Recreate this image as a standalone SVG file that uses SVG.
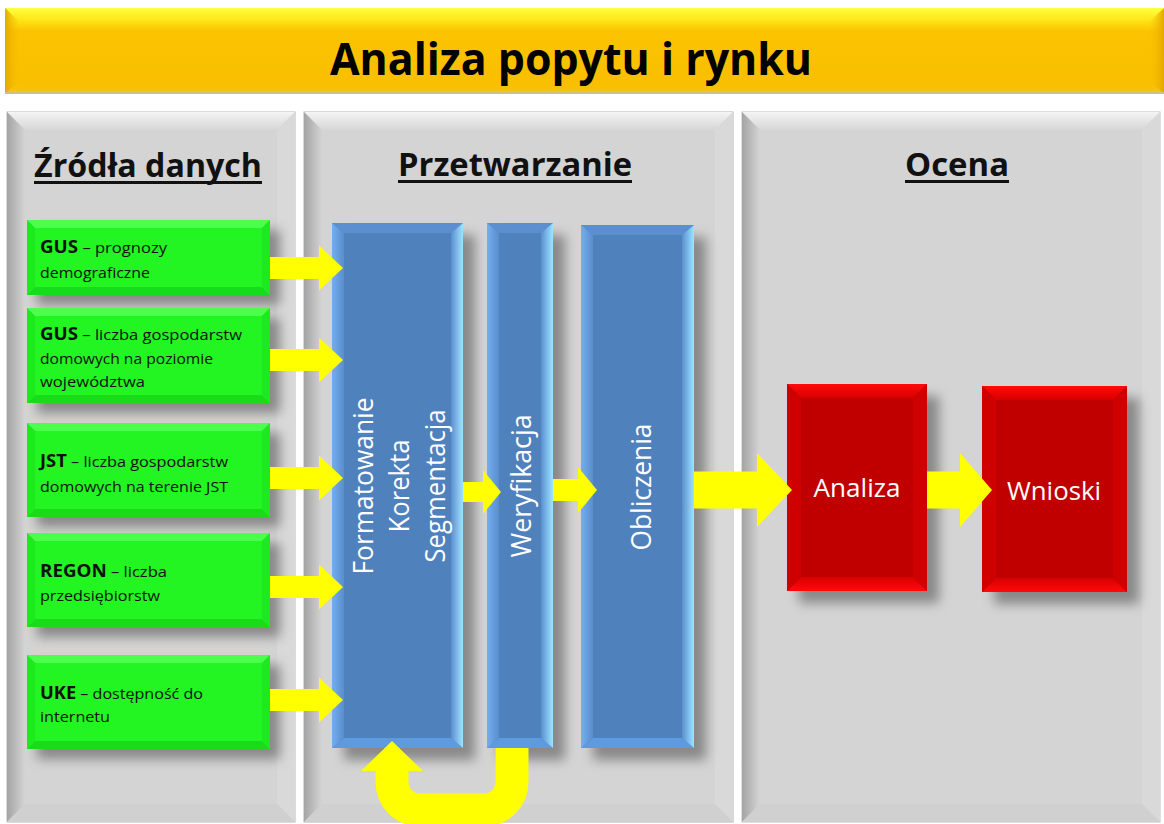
<svg xmlns="http://www.w3.org/2000/svg" width="1164" height="824" viewBox="0 0 1164 824">
<defs>
  <linearGradient id="gTitle" x1="0" y1="0" x2="0" y2="1">
    <stop offset="0" stop-color="#ffff40"/>
    <stop offset="0.13" stop-color="#ffe81a"/>
    <stop offset="0.27" stop-color="#fbc300"/>
    <stop offset="0.9" stop-color="#f9bf00"/>
    <stop offset="1" stop-color="#f6c520"/>
  </linearGradient>
  <linearGradient id="gTitleL" x1="0" y1="0" x2="1" y2="0">
    <stop offset="0" stop-color="#e3a800"/><stop offset="1" stop-color="#f9bf00" stop-opacity="0"/>
  </linearGradient>
  <linearGradient id="gTitleR" x1="1" y1="0" x2="0" y2="0">
    <stop offset="0" stop-color="#e3a800"/><stop offset="1" stop-color="#f9bf00" stop-opacity="0"/>
  </linearGradient>
  <linearGradient id="gPanL" x1="0" y1="0" x2="1" y2="0">
    <stop offset="0" stop-color="#a4a4a4"/><stop offset="1" stop-color="#d4d4d4"/>
  </linearGradient>
  <linearGradient id="gPanT" x1="0" y1="0" x2="0" y2="1">
    <stop offset="0" stop-color="#f4f4f4"/><stop offset="1" stop-color="#d6d6d6"/>
  </linearGradient>
  <linearGradient id="gBlueR" x1="0" y1="0" x2="1" y2="0">
    <stop offset="0" stop-color="#5a8fd0"/><stop offset="1" stop-color="#9ee4ff"/>
  </linearGradient>
  <linearGradient id="gBlueL" x1="1" y1="0" x2="0" y2="0">
    <stop offset="0" stop-color="#5a8dcc"/><stop offset="1" stop-color="#74aef0"/>
  </linearGradient>
  <linearGradient id="gRedT" x1="0" y1="0" x2="0" y2="1">
    <stop offset="0" stop-color="#ff0a0a"/><stop offset="1" stop-color="#d80000"/>
  </linearGradient>
  <linearGradient id="gRedB" x1="0" y1="1" x2="0" y2="0">
    <stop offset="0" stop-color="#ff0a0a"/><stop offset="1" stop-color="#d80000"/>
  </linearGradient>
  <filter id="blur" x="-30%" y="-30%" width="160%" height="160%">
    <feGaussianBlur stdDeviation="6"/>
  </filter>
</defs>
<style>
  .pMain{fill:#d4d4d4;}
  .pRight{fill:#d9d9d9;}
  .pBot{fill:#d0d0d0;}
  .shadow{fill:#6e6e6e;opacity:0.75;filter:url(#blur);}
  .gMain{fill:#22f522;}
  .gTop{fill:#4dff4d;}
  .gBot{fill:#18dc18;}
  .gSide{fill:#1ee91e;}
  .bMain{fill:#4f81bd;}
  .bTop{fill:#5b8fcf;}
  .bBot{fill:#5e9ade;}
  .rMain{fill:#c00000;}
  .rSide{fill:#cf0000;}
  .arrow{fill:#ffff00;}
  .hdr{font-family:"Open Sans","Liberation Sans",sans-serif;font-weight:bold;font-size:32px;fill:#111;}
  .ul{stroke:#111;stroke-width:3;}
  .src{font-family:"Open Sans","Liberation Sans",sans-serif;font-size:15px;fill:#111;}
  .src .b{font-weight:bold;font-size:17px;}
  .wt{font-family:"Open Sans","Liberation Sans",sans-serif;font-size:27px;fill:#ffffff;text-anchor:middle;}
</style>

<!-- Title bar -->
<g id="title">
  <rect x="5" y="8" width="1159" height="86" fill="url(#gTitle)"/>
  <polygon points="5,8 20,22 20,80 5,94" fill="url(#gTitleL)"/>
  <polygon points="1164,8 1149,22 1149,80 1164,94" fill="url(#gTitleR)"/>
  <rect x="5" y="92" width="1159" height="2" fill="#cfc27a"/>
  <text x="571" y="75" text-anchor="middle" textLength="482" lengthAdjust="spacingAndGlyphs" style="font-family:'Open Sans','Liberation Sans',sans-serif;font-weight:bold;font-size:44px;fill:#000;">Analiza popytu i rynku</text>
</g>

<!-- Panels -->
<g id="panel-zrodla">
  <rect class="pMain" x="7" y="112" width="288" height="710" stroke="#b8b8b8" stroke-width="1"/>
  <polygon points="7,112 295,112 277,130 25,130" fill="url(#gPanT)"/>
  <polygon points="7,112 25,130 25,804 7,822" fill="url(#gPanL)"/>
  <polygon class="pRight" points="295,112 295,822 277,804 277,130"/>
  <polygon class="pBot" points="7,822 295,822 277,804 25,804"/>
  <text class="hdr" x="34" y="177" textLength="228" lengthAdjust="spacingAndGlyphs">Źródła danych</text>
  <line class="ul" x1="34" y1="182.5" x2="262" y2="182.5"/>
</g>
<g id="panel-przetwarzanie">
  <rect class="pMain" x="304" y="112" width="429" height="710" stroke="#b0b0b0" stroke-width="1"/>
  <polygon points="304,112 733,112 715,130 322,130" fill="url(#gPanT)"/>
  <polygon points="304,112 322,130 322,804 304,822" fill="url(#gPanL)"/>
  <polygon class="pRight" points="733,112 733,822 715,804 715,130"/>
  <polygon class="pBot" points="304,822 733,822 715,804 322,804"/>
  <text class="hdr" x="398" y="176" textLength="234" lengthAdjust="spacingAndGlyphs">Przetwarzanie</text>
  <line class="ul" x1="398" y1="181.5" x2="632" y2="181.5"/>
</g>
<g id="panel-ocena">
  <rect class="pMain" x="742" y="112" width="418" height="710" stroke="#c0c0c0" stroke-width="1"/>
  <polygon points="742,112 1160,112 1142,130 760,130" fill="url(#gPanT)"/>
  <polygon points="742,112 760,130 760,804 742,822" fill="url(#gPanL)"/>
  <polygon class="pRight" points="1160,112 1160,822 1142,804 1142,130"/>
  <polygon class="pBot" points="742,822 1160,822 1142,804 760,804"/>
  <text class="hdr" x="905" y="176" textLength="104" lengthAdjust="spacingAndGlyphs">Ocena</text>
  <line class="ul" x1="905" y1="181.5" x2="1009" y2="181.5"/>
</g>

<!-- Source nodes -->
<g id="src-gus1">
  <rect class="shadow" x="37" y="230" width="243" height="75"/>
  <rect class="gMain" x="27" y="220" width="243" height="75"/>
  <polygon class="gTop" points="27,220 270,220 262,228 35,228"/>
  <polygon class="gBot" points="27,295 270,295 262,287 35,287"/>
  <polygon class="gSide" points="27,220 35,228 35,287 27,295"/>
  <polygon class="gSide" points="270,220 262,228 262,287 270,295"/>
  <text class="src" x="40" y="253" textLength="127" lengthAdjust="spacingAndGlyphs"><tspan class="b">GUS</tspan> – prognozy</text>
  <text class="src" x="40" y="278" textLength="110" lengthAdjust="spacingAndGlyphs">demograficzne</text>
</g>
<g id="src-gus2">
  <rect class="shadow" x="37" y="318" width="243" height="95"/>
  <rect class="gMain" x="27" y="308" width="243" height="95"/>
  <polygon class="gTop" points="27,308 270,308 262,316 35,316"/>
  <polygon class="gBot" points="27,403 270,403 262,395 35,395"/>
  <polygon class="gSide" points="27,308 35,316 35,395 27,403"/>
  <polygon class="gSide" points="270,308 262,316 262,395 270,403"/>
  <text class="src" x="40" y="340" textLength="202" lengthAdjust="spacingAndGlyphs"><tspan class="b">GUS</tspan> –  liczba gospodarstw</text>
  <text class="src" x="40" y="364" textLength="173" lengthAdjust="spacingAndGlyphs">domowych na poziomie</text>
  <text class="src" x="40" y="387" textLength="105" lengthAdjust="spacingAndGlyphs">województwa</text>
</g>
<g id="src-jst">
  <rect class="shadow" x="37" y="433" width="243" height="94"/>
  <rect class="gMain" x="27" y="423" width="243" height="94"/>
  <polygon class="gTop" points="27,423 270,423 262,431 35,431"/>
  <polygon class="gBot" points="27,517 270,517 262,509 35,509"/>
  <polygon class="gSide" points="27,423 35,431 35,509 27,517"/>
  <polygon class="gSide" points="270,423 262,431 262,509 270,517"/>
  <text class="src" x="40" y="467" textLength="188" lengthAdjust="spacingAndGlyphs"><tspan class="b">JST</tspan> – liczba gospodarstw</text>
  <text class="src" x="40" y="492" textLength="188" lengthAdjust="spacingAndGlyphs">domowych na terenie JST</text>
</g>
<g id="src-regon">
  <rect class="shadow" x="37" y="543" width="243" height="94"/>
  <rect class="gMain" x="27" y="533" width="243" height="94"/>
  <polygon class="gTop" points="27,533 270,533 262,541 35,541"/>
  <polygon class="gBot" points="27,627 270,627 262,619 35,619"/>
  <polygon class="gSide" points="27,533 35,541 35,619 27,627"/>
  <polygon class="gSide" points="270,533 262,541 262,619 270,627"/>
  <text class="src" x="40" y="577" textLength="127" lengthAdjust="spacingAndGlyphs"><tspan class="b">REGON</tspan> – liczba</text>
  <text class="src" x="40" y="601" textLength="120" lengthAdjust="spacingAndGlyphs">przedsiębiorstw</text>
</g>
<g id="src-uke">
  <rect class="shadow" x="37" y="665" width="243" height="94"/>
  <rect class="gMain" x="27" y="655" width="243" height="94"/>
  <polygon class="gTop" points="27,655 270,655 262,663 35,663"/>
  <polygon class="gBot" points="27,749 270,749 262,741 35,741"/>
  <polygon class="gSide" points="27,655 35,663 35,741 27,749"/>
  <polygon class="gSide" points="270,655 262,663 262,741 270,749"/>
  <text class="src" x="40" y="699" textLength="163" lengthAdjust="spacingAndGlyphs"><tspan class="b">UKE</tspan> – dostępność do</text>
  <text class="src" x="40" y="722" textLength="70" lengthAdjust="spacingAndGlyphs">internetu</text>
</g>

<!-- Processing nodes -->
<g id="proc-formatowanie">
  <rect class="shadow" x="344" y="235" width="131" height="525"/>
  <rect class="bMain" x="332" y="223" width="131" height="525"/>
  <polygon class="bTop" points="332,223 463,223 451,233 344,233"/>
  <polygon class="bBot" points="332,748 463,748 451,738 344,738"/>
  <polygon points="332,223 344,233 344,738 332,748" fill="url(#gBlueL)"/>
  <polygon points="463,223 451,233 451,738 463,748" fill="url(#gBlueR)"/>
  <text class="wt" transform="translate(373,486) rotate(-90)" textLength="177" lengthAdjust="spacingAndGlyphs">Formatowanie</text>
  <text class="wt" transform="translate(409,486) rotate(-90)" textLength="93" lengthAdjust="spacingAndGlyphs">Korekta</text>
  <text class="wt" transform="translate(445,486) rotate(-90)" textLength="153" lengthAdjust="spacingAndGlyphs">Segmentacja</text>
</g>
<g id="proc-weryfikacja">
  <rect class="shadow" x="499" y="235" width="66" height="525"/>
  <rect class="bMain" x="487" y="223" width="66" height="525"/>
  <polygon class="bTop" points="487,223 553,223 541,233 499,233"/>
  <polygon class="bBot" points="487,748 553,748 541,738 499,738"/>
  <polygon points="487,223 499,233 499,738 487,748" fill="url(#gBlueL)"/>
  <polygon points="553,223 541,233 541,738 553,748" fill="url(#gBlueR)"/>
  <text class="wt" transform="translate(531,486) rotate(-90)" textLength="143" lengthAdjust="spacingAndGlyphs">Weryfikacja</text>
</g>
<g id="proc-obliczenia">
  <rect class="shadow" x="593" y="237" width="113" height="523"/>
  <rect class="bMain" x="581" y="225" width="113" height="523"/>
  <polygon class="bTop" points="581,225 694,225 682,235 593,235"/>
  <polygon class="bBot" points="581,748 694,748 682,738 593,738"/>
  <polygon points="581,225 593,235 593,738 581,748" fill="url(#gBlueL)"/>
  <polygon points="694,225 682,235 682,738 694,748" fill="url(#gBlueR)"/>
  <text class="wt" transform="translate(651,487) rotate(-90)" textLength="127" lengthAdjust="spacingAndGlyphs">Obliczenia</text>
</g>

<!-- Evaluation nodes -->
<g id="ocena-analiza">
  <rect class="shadow" x="799" y="396" width="140" height="207"/>
  <rect class="rMain" x="787" y="384" width="140" height="207"/>
  <polygon points="787,384 927,384 913,398 801,398" fill="url(#gRedT)"/>
  <polygon points="787,591 927,591 913,577 801,577" fill="url(#gRedB)"/>
  <polygon class="rSide" points="787,384 801,398 801,577 787,591"/>
  <polygon class="rSide" points="927,384 913,398 913,577 927,591"/>
  <text class="wt" x="857" y="497" font-size="26" textLength="87" lengthAdjust="spacingAndGlyphs" style="font-size:26px">Analiza</text>
</g>
<g id="ocena-wnioski">
  <rect class="shadow" x="994" y="398" width="145" height="206"/>
  <rect class="rMain" x="982" y="386" width="145" height="206"/>
  <polygon points="982,386 1127,386 1113,400 996,400" fill="url(#gRedT)"/>
  <polygon points="982,592 1127,592 1113,578 996,578" fill="url(#gRedB)"/>
  <polygon class="rSide" points="982,386 996,400 996,578 982,592"/>
  <polygon class="rSide" points="1127,386 1113,400 1113,578 1127,592"/>
  <text class="wt" x="1054" y="500" textLength="94" lengthAdjust="spacingAndGlyphs" style="font-size:26px">Wnioski</text>
</g>

<!-- Connectors -->
<g id="connectors">
  <polygon class="arrow" points="270,257 319,257 319,245.5 343,268 319,290.5 319,279 270,279"/>
  <polygon class="arrow" points="270,349 319,349 319,337.5 343,360 319,382.5 319,371 270,371"/>
  <polygon class="arrow" points="270,467 319,467 319,455.5 343,478 319,500.5 319,489 270,489"/>
  <polygon class="arrow" points="270,576 319,576 319,564.5 343,587 319,609.5 319,598 270,598"/>
  <polygon class="arrow" points="270,689 319,689 319,677.5 343,700 319,722.5 319,711 270,711"/>
  <polygon class="arrow" points="463,482 483,482 483,470 501,492 483,514 483,502 463,502"/>
  <polygon class="arrow" points="553,479 578,479 578,467 597,490 578,513 578,501 553,501"/>
  <polygon class="arrow" points="694,471.5 757,471.5 757,453 792,490 757,527 757,508.5 694,508.5"/>
  <polygon class="arrow" points="927,471.5 960,471.5 960,453 992,490 960,527 960,508.5 927,508.5"/>
  <path d="M512,748 V782 A28,28 0 0 1 484,810 H420 A28,28 0 0 1 392,782 V768" fill="none" stroke="#ffff00" stroke-width="33"/>
  <polygon class="arrow" points="361,771 392,741 423,771"/>
</g>
</svg>
